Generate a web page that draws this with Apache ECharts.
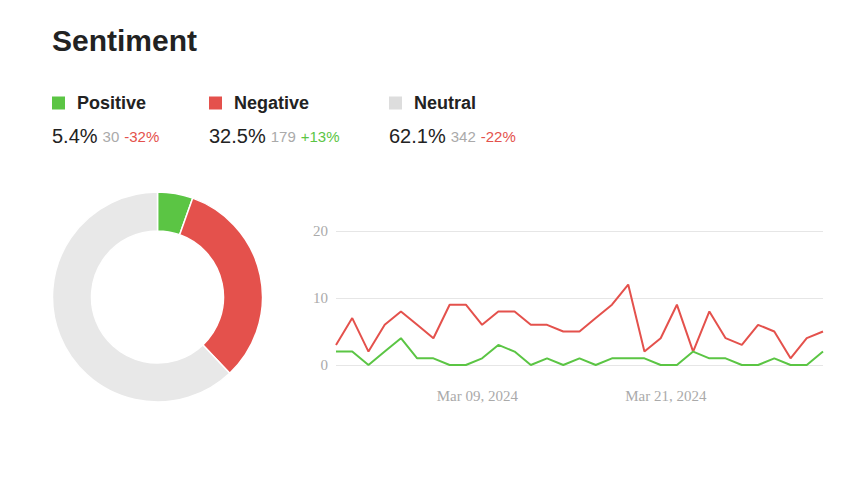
<!DOCTYPE html>
<html>
<head>
<meta charset="utf-8">
<script src="https://cdn.jsdelivr.net/npm/echarts@6/dist/echarts.min.js"></script>
<style>
html,body{margin:0;padding:0;background:#fff;}
#chart{width:865px;height:477px;}
</style>
</head>
<body>
<div id="chart"></div>
<script>
// ---- data ----
const sentimentNames = ['Positive', 'Negative', 'Neutral'];
const sentimentCounts = [30, 179, 342];
const sentimentPercents = ['5.4%', '32.5%', '62.1%'];
const sentimentChanges = ['-32%', '+13%', '-22%'];
const dayLabels = ['Mar 01','Mar 02','Mar 03','Mar 04','Mar 05','Mar 06','Mar 07','Mar 08','Mar 09','Mar 10',
  'Mar 11','Mar 12','Mar 13','Mar 14','Mar 15','Mar 16','Mar 17','Mar 18','Mar 19','Mar 20',
  'Mar 21','Mar 22','Mar 23','Mar 24','Mar 25','Mar 26','Mar 27','Mar 28','Mar 29','Mar 30','Mar 31'];
const negativeDaily = [3,7,2,6,8,6,4,9,9,6,8,8,6,6,5,5,7,9,12,2,4,9,2,8,4,3,6,5,1,4,5];
const positiveDaily = [2,2,0,2,4,1,1,0,0,1,3,2,0,1,0,1,0,1,1,1,0,0,2,1,1,0,0,1,0,0,2];
const yTicks = [0, 10, 20];
const xTickDates = ['2024-03-09', '2024-03-21'];
const axisRangeDates = ['2024-02-29', '2024-03-31'];

// ---- styles ----
const colors = ['#5bc544', '#e4514c', '#e8e8e8'];
const legendColors = ['#5bc544', '#e4514c', '#dddddd'];
const changeColors = ['#e4514c', '#5bc544', '#e4514c'];
const colX = [52, 209, 389];
const sans = 'Liberation Sans, Arial, sans-serif';
const serif = 'Liberation Serif, Times New Roman, serif';

function toTs(s){ const p = s.split('-').map(Number); return Date.UTC(p[0], p[1]-1, p[2]); }
const monthNames = ['Jan','Feb','Mar','Apr','May','Jun','Jul','Aug','Sep','Oct','Nov','Dec'];
function fmtDate(v){ const d = new Date(v); return monthNames[d.getUTCMonth()] + ' ' + String(d.getUTCDate()).padStart(2,'0') + ', ' + d.getUTCFullYear(); }

const titles = [{
  text: 'Sentiment', left: 52, top: 25, padding: 0,
  textStyle: {fontSize: 30, fontWeight: 'bold', color: '#222', fontFamily: sans}
}];
sentimentNames.forEach((n, i) => {
  titles.push({
    text: '{sq|}{name|' + n + '}', left: colX[i], top: 93, padding: 0,
    textStyle: {
      rich: {
        sq: {width: 13, height: 13, backgroundColor: legendColors[i]},
        name: {fontSize: 18, fontWeight: 'bold', color: '#222', fontFamily: sans, padding: [0, 0, 0, 12], lineHeight: 20}
      }
    }
  });
  titles.push({
    text: '{pct|' + sentimentPercents[i] + '} {cnt|' + sentimentCounts[i] + '} {chg|' + sentimentChanges[i] + '}',
    left: colX[i], top: 125, padding: 0,
    textStyle: {
      fontWeight: 'normal',
      rich: {
        pct: {fontSize: 20, fontWeight: 'normal', color: '#222', fontFamily: sans, lineHeight: 22},
        cnt: {fontSize: 15, fontWeight: 'normal', color: '#aaaaaa', fontFamily: sans, lineHeight: 22},
        chg: {fontSize: 15, fontWeight: 'normal', color: changeColors[i], fontFamily: sans, lineHeight: 22}
      }
    }
  });
});

const chart = echarts.init(document.getElementById('chart'), null, {renderer: 'svg'});
chart.setOption({
  animation: false,
  backgroundColor: '#fff',
  title: titles,
  grid: {left: 336, right: 42, top: 231, bottom: 112},
  xAxis: [{
    type: 'category', data: dayLabels, boundaryGap: false,
    axisLine: {show: false}, axisTick: {show: false}, axisLabel: {show: false}, splitLine: {show: false}
  }, {
    type: 'value', position: 'bottom',
    min: toTs(axisRangeDates[0]), max: toTs(axisRangeDates[1]),
    axisLine: {show: false}, axisTick: {show: false}, splitLine: {show: false},
    axisLabel: {
      customValues: xTickDates.map(toTs),
      formatter: v => fmtDate(v),
      fontFamily: serif, fontSize: 15, color: '#aaaaaa', margin: 23
    }
  }],
  yAxis: {
    type: 'value', min: yTicks[0], max: yTicks[yTicks.length-1], interval: yTicks[1]-yTicks[0],
    axisLine: {show: false}, axisTick: {show: false},
    splitLine: {lineStyle: {color: '#e6e6e6', width: 1}},
    axisLabel: {fontFamily: serif, fontSize: 15, color: '#aaaaaa', margin: 8}
  },
  series: [{
    type: 'pie', center: [157.5, 297], radius: [66, 105], startAngle: 90, clockwise: true,
    label: {show: false}, labelLine: {show: false}, silent: true,
    itemStyle: {borderColor: '#fff', borderWidth: 1.5},
    data: sentimentNames.map((n, i) => ({name: n, value: sentimentCounts[i], itemStyle: {color: colors[i]}}))
  }, {
    type: 'line', name: 'Negative', xAxisIndex: 0, data: negativeDaily,
    showSymbol: false, symbol: 'none', lineStyle: {color: colors[1], width: 2}, itemStyle: {color: colors[1]}
  }, {
    type: 'line', name: 'Positive', xAxisIndex: 0, data: positiveDaily,
    showSymbol: false, symbol: 'none', lineStyle: {color: colors[0], width: 2}, itemStyle: {color: colors[0]}
  }]
});
</script>
</body>
</html>
